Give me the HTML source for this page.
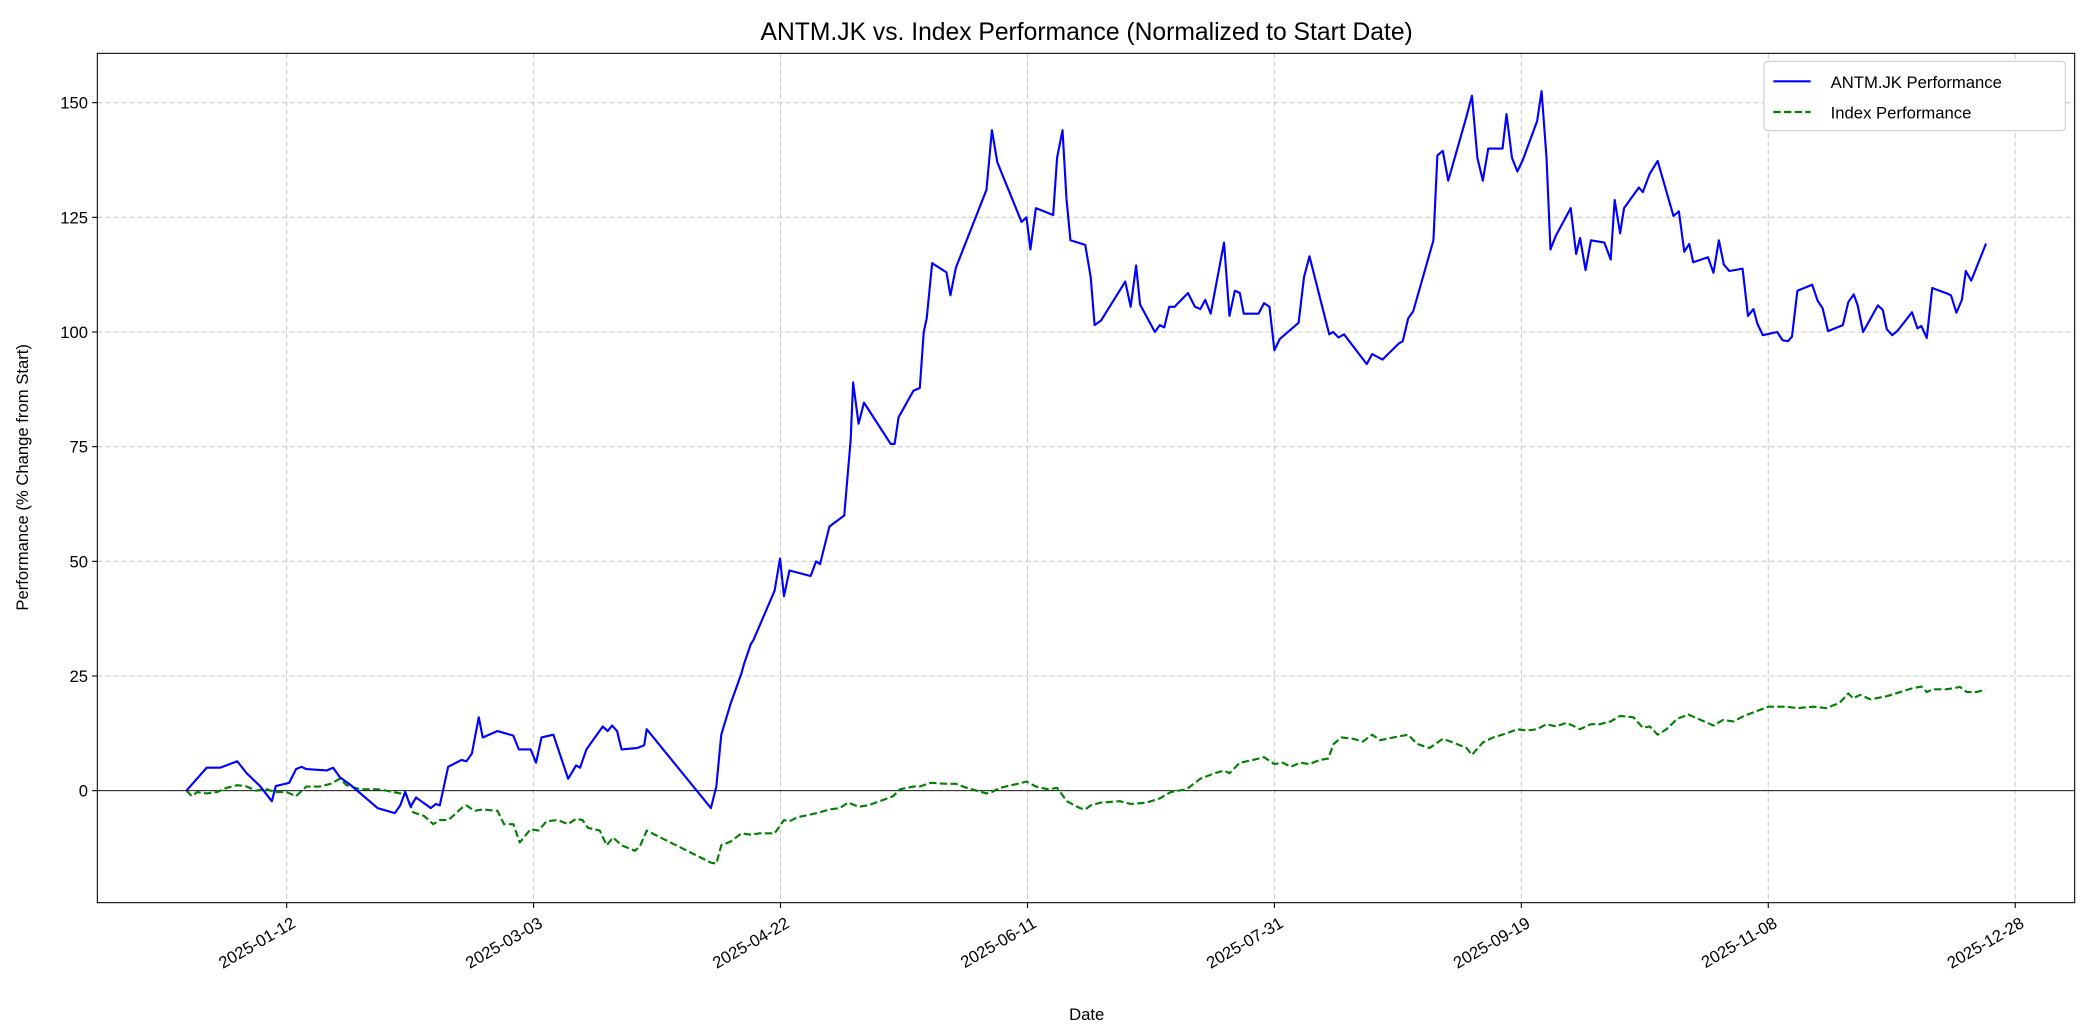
<!DOCTYPE html>
<html><head><meta charset="utf-8"><style>
html,body{margin:0;padding:0;background:#fff}
svg{display:block;font-family:"Liberation Sans","DejaVu Sans",sans-serif}
</style></head><body>
<svg id="chart" width="2084" height="1035" viewBox="0 0 1563 776.25" xmlns="http://www.w3.org/2000/svg">
<rect width="1563" height="776.25" fill="#fff"/>
<text x="815" y="30" font-size="18.5" text-anchor="middle">ANTM.JK vs. Index Performance (Normalized to Start Date)</text>
<g id="grid"></g>
<g id="plot"></g>
<g id="axes"></g>
<text x="815" y="765" font-size="12.5" text-anchor="middle">Date</text>
<text transform="translate(21,358) rotate(-90)" font-size="12.5" text-anchor="middle">Performance (% Change from Start)</text>
<g>
<rect x="1323" y="46" width="226" height="52" rx="3" fill="#fff" stroke="#ccc" stroke-width="0.8"/>
<line x1="1330" y1="61" x2="1358" y2="61" stroke="#0000ff" stroke-width="1.6"/>
<text x="1373" y="66" font-size="12.5">ANTM.JK Performance</text>
<line x1="1330" y1="84" x2="1358" y2="84" stroke="#008000" stroke-width="1.6" stroke-dasharray="5.5,2.5"/>
<text x="1373" y="89" font-size="12.5">Index Performance</text>
</g>
</svg>
<script>
const antmDays=[-9.3,-5.2,-2.5,1,2.9,5.6,8,8.8,11.5,12.9,14,15,19.1,20.4,21.8,24,29.4,32.9,34,35,36.1,37.2,40.2,41.2,42,43.7,46.4,47.4,48.5,49.9,50.7,53.7,56.9,58,60.4,61.5,62.6,65,68,69.6,70.4,71.7,75,76,76.9,77.9,78.8,82,83.4,83.9,96.9,98,99,100.9,103.1,103.6,105,105.5,109.8,110.9,111.7,112.8,117.1,118.2,119,120.9,123.9,125.2,125.7,126.8,127.9,133.3,134.1,134.9,137.9,139.2,140,140.6,141.7,144.6,145.4,146.5,152.7,153.8,154.9,159.8,160.8,161.6,162.7,166.2,167,168.1,168.9,169.7,172.7,173.8,174.6,175.9,180.8,181.9,183,183.8,186.8,187.8,188.7,189.7,190.8,193.5,194.9,196,197,198.1,200.8,201.9,203,204,204.8,207.8,208.9,210,211,212.1,214.8,215.9,217,218.1,222.1,222.9,224,225.1,229.7,230.8,232.9,236.2,237,238.1,239.1,243.2,244,245.1,246.2,249.9,251,252.1,253.2,254.3,257.2,258,259.1,260.2,261.3,264.2,265.1,266.1,266.9,268,271,272.1,272.9,274,275.1,277.8,279.1,279.9,281,281.8,284.8,285.6,287,288.6,291.8,292.9,294,295,295.8,298.8,299.9,301,302,303.1,305.8,306.9,308,308.8,309.9,312.8,313.9,315,315.8,316.9,319.9,321,322,323.1,326.1,327.2,328.3,329.1,330.2,333.2,334.2,335,336.1,337.2,340.1,341.2,342,343.1,344.2,347.2,348,349.1,350.2,351,352.1,355.1];
const antmValues=[0,5,5,6.4,3.8,1,-2.3,1,1.7,4.7,5.2,4.7,4.4,5,2.9,1.2,-3.8,-4.9,-3.2,-0.3,-3.5,-1.5,-3.8,-2.9,-3.2,5.2,6.7,6.4,8.1,16,11.6,13,12,9,9,6.1,11.6,12.2,2.6,5.5,5,9,14,13,14.2,13,9,9.3,9.9,13.4,-3.8,0.9,12.2,19,25.6,27.6,32,32.8,43.6,50.6,42.4,48,46.8,50,49.4,57.6,60,76.5,89,80,84.6,75.6,75.6,81.4,87.2,87.8,100,103,115,113,108,114,131,144,137,124,125,118,127,125.5,138,144,129,120,119,112,101.5,102.5,111,105.5,114.5,106,100,101.5,101,105.5,105.5,108.5,105.5,105,107,104,119.5,103.5,109,108.5,104,104,106.3,105.5,96,98.5,101,102,112,116.5,99.5,100,98.8,99.5,93,95.2,94,97.5,98,103,104.5,120,138.5,139.5,133,147,151.5,138,133,140,140,147.5,138,135,137.5,146,152.5,138,118,121,127,117,120.5,113.5,120,119.5,115.8,128.8,121.5,127,131.5,130.5,134.5,137.3,125.3,126.3,117.5,119.2,115.2,116.3,112.9,120,114.7,113.3,113.8,103.5,105,101.8,99.3,100,98.2,98,99,109,110.3,106.8,105.2,100.2,101.5,106.5,108.2,105.8,100,105.8,104.8,100.6,99.3,100.3,104.3,100.8,101.3,98.7,109.6,108.4,108,104.2,107,113.3,111.2,119.3];
const indexDays=[-9.3,-8.2,-7.1,-5.2,-3.1,-1.2,1,2.9,4.8,6.9,8.8,11,12.9,15,17.7,19.9,21.8,23.1,25.8,29.4,31.2,34,35,36.6,38.8,40.7,42,43.7,45,46.4,47.4,49,50.7,53.7,55,56.9,58.2,60.4,62,63.6,65.8,68,69.6,70.9,72,74.4,75.8,77.1,78.8,81.5,82.5,83.9,96.9,98,99,100.9,103.1,105,106.8,109.8,111.7,112.8,114.4,117.1,119,120.9,123,124.7,126.8,128.7,131.1,133.8,135.2,137.9,139.2,141.4,144.6,146.5,148.7,152.7,153.8,155.4,159.8,160.8,162.7,165.2,167,169,171.6,172.7,173.8,175.9,179.7,181.9,185.1,187.8,190,193.2,196,198.9,200.8,201.9,204,206.7,208.9,211,212.7,214.3,216.2,218.1,220.2,221.9,223,224.6,227,228.9,230.8,232.4,235.1,238.1,239.9,242.4,245.1,247.2,249.9,251,253.2,255.3,258,260.2,262.1,264.2,266.1,268,270.2,272.9,275.1,276.9,279.1,281,283.7,285.6,287,288.6,290.4,292.6,294.8,298,299.9,301.8,304,306.1,308.8,311,314.7,316.9,320.1,322.8,325.5,327.2,328.2,329.6,331.7,335,337.7,340.1,342,343.1,344.4,347.1,349.8,351.2,353.1,355];
const indexValues=[0,-1.2,-0.3,-0.6,-0.3,0.6,1.2,0.9,0,0.3,-0.3,-0.3,-1.2,0.9,0.9,1.5,2.6,1.2,0.3,0.3,0,-0.6,-0.3,-4.7,-5.5,-7.3,-6.4,-6.4,-5.2,-3.8,-3.2,-4.4,-4.1,-4.4,-7.3,-7.3,-11.3,-8.4,-8.7,-6.7,-6.4,-7.3,-6.1,-6.4,-8.1,-8.7,-11.9,-10.2,-11.9,-13.1,-12.2,-8.7,-15.7,-15.9,-11.9,-11.1,-9.3,-9.6,-9.3,-9.3,-6.4,-6.7,-5.8,-5.2,-4.7,-4.1,-3.8,-2.6,-3.5,-3.2,-2.3,-1.2,0.3,0.9,0.9,1.7,1.5,1.5,0.6,-0.6,-0.3,0.6,1.7,2,0.9,0.3,0.6,-2.3,-3.8,-4.1,-3.2,-2.6,-2.3,-2.9,-2.6,-1.7,-0.3,0.3,2.6,3.8,4.4,3.8,6.1,6.7,7.3,5.8,6.1,5.2,6.1,5.8,6.7,7,10.2,11.6,11.3,10.7,12.2,11,11.6,12.2,10.2,9.3,11.3,10.5,9.3,7.8,10.5,11.6,12.5,13.4,13.1,13.4,14.5,14,14.8,13.4,14.5,14.5,15.1,16.3,16,13.7,14,12.2,13.4,15.7,16.6,15.1,14.2,15.4,15.1,16.3,17.4,18.3,18.3,18,18.3,18,19.2,21.2,20.1,20.9,19.9,20.6,21.5,22.3,22.7,21.5,22.1,22.1,22.6,21.5,21.5,22];
const xTickDays=[11,61,111,161,211,261,311,361];
const xTickLabels=["2025-01-12","2025-03-03","2025-04-22","2025-06-11","2025-07-31","2025-09-19","2025-11-08","2025-12-28"];
const yTickValues=[0,25,50,75,100,125,150];

const L=73,R=1556,T=40,B=677;
const xs=d=>215+(d-11)*3.704;
const ys=v=>593-v*3.44;
const NS="http://www.w3.org/2000/svg";
function mk(tag,attrs,parent){const e=document.createElementNS(NS,tag);for(const k in attrs)e.setAttribute(k,attrs[k]);parent.appendChild(e);return e;}
const grid=document.getElementById('grid'),plot=document.getElementById('plot'),axes=document.getElementById('axes');
xTickDays.forEach((d,i)=>{
  const x=xs(d);
  const g=mk('line',{x1:x,x2:x,y1:T,y2:B,stroke:'#cccccc','stroke-width':0.8,'stroke-dasharray':'4,2'},grid);
  
  
  const t=mk('line',{x1:x,x2:x,y1:B,y2:B+4,stroke:'#000','stroke-width':0.8},axes);
  
  
  const lb=mk('text',{transform:`translate(${x+3},${B+10}) rotate(-30)`,'font-size':12.5,'text-anchor':'end','dominant-baseline':'hanging'},axes);
  lb.textContent=xTickLabels[i];
  
  
});
yTickValues.forEach(v=>{
  const y=ys(v);
  const g=mk('line',{x1:L,x2:R,y1:y,y2:y,stroke:'#cccccc','stroke-width':0.8,'stroke-dasharray':'4,2'},grid);
  
  
  const t=mk('line',{x1:L-4,x2:L,y1:y,y2:y,stroke:'#000','stroke-width':0.8},axes);
  
  
  const lb=mk('text',{x:L-7,y:y+4.5,'font-size':12.5,'text-anchor':'end'},axes);
  lb.textContent=String(v);
  
  
});
const zl=mk('line',{x1:L,x2:R,y1:ys(0),y2:ys(0),stroke:'#000','stroke-width':0.7},plot);


const ip=mk('polyline',{points:indexDays.map((d,i)=>xs(d)+','+ys(indexValues[i])).join(' '),fill:'none',stroke:'#008000','stroke-width':1.6,'stroke-dasharray':'5.5,2.5','stroke-linejoin':'round'},plot);


const ap=mk('polyline',{points:antmDays.map((d,i)=>xs(d)+','+ys(antmValues[i])).join(' '),fill:'none',stroke:'#0000ff','stroke-width':1.6,'stroke-linejoin':'round'},plot);


const fr=mk('rect',{x:L,y:T,width:R-L,height:B-T,fill:'none',stroke:'#000','stroke-width':0.8},axes);


</script>
</body></html>
